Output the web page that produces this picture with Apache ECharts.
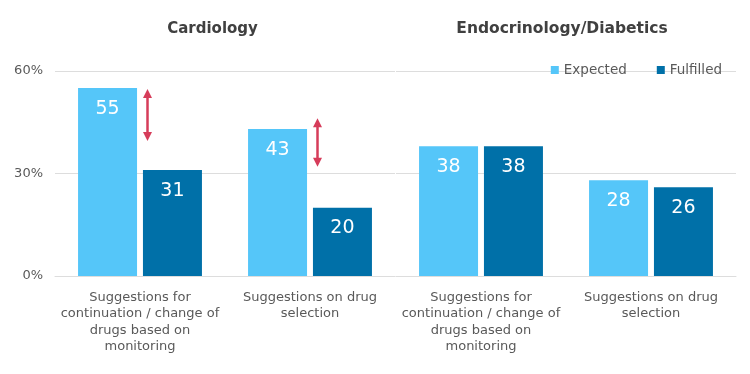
<!DOCTYPE html>
<html>
<head>
<meta charset="utf-8">
<script src="https://cdn.jsdelivr.net/npm/echarts@6/dist/echarts.min.js"></script>
<style>
html,body{margin:0;padding:0;background:#fff;}
#chart{width:750px;height:374px;}
</style>
</head>
<body>
<div id="chart"></div>
<script>
// ---- data ----
var panelTitles = ['Cardiology', 'Endocrinology/Diabetics'];
var categories = ['Suggestions for\ncontinuation / change of\ndrugs based on\nmonitoring', 'Suggestions on drug\nselection'];
var cardioExpected = [55, 43];
var cardioFulfilled = [31, 20];
var endoExpected = [38, 28];
var endoFulfilled = [38, 26];
var yTicks = [0, 30, 60];
// gap arrows in the Cardiology panel: [category index, top value, bottom value]
var arrowCats = [0, 1];
var arrowTop = [54.7, 46.2];
var arrowBottom = [39.5, 32.0];

var cLight = '#55C6F9';
var cDark = '#0070A8';
var cText = '#595959';
var cGrid = '#DDDDDD';
var font = '"DejaVu Sans", Verdana, sans-serif';

var chart = echarts.init(document.getElementById('chart'), null, {renderer: 'canvas'});

function xAxis(idx) {
  return {
    type: 'category', gridIndex: idx, data: categories,
    axisTick: {show: false},
    axisLine: {lineStyle: {color: cGrid, width: 1}},
    axisLabel: {interval: 0, color: cText, fontSize: 13, lineHeight: 16.5, margin: 13, fontFamily: font}
  };
}
function yAxis(idx, showLabel) {
  return {
    type: 'value', gridIndex: idx, min: yTicks[0], max: yTicks[yTicks.length - 1], interval: yTicks[1] - yTicks[0],
    axisLine: {show: false}, axisTick: {show: false},
    axisLabel: {show: showLabel, color: cText, fontSize: 13, margin: 12, fontFamily: font, formatter: '{value}%'},
    splitLine: {lineStyle: {color: cGrid, width: 1}}
  };
}
var labelCfg = {show: true, position: 'insideTop', distance: 11, color: '#ffffff', fontSize: 19, fontFamily: font};

function barSeries(name, data, idx, color) {
  return {
    name: name, type: 'bar', xAxisIndex: idx, yAxisIndex: idx, data: data,
    barWidth: 59, barGap: '10%', itemStyle: {color: color},
    label: labelCfg, emphasis: {disabled: true}
  };
}

var arrowData = arrowCats.map(function (c, i) { return [c, arrowTop[i], arrowBottom[i]]; });

var option = {
  animation: false,
  textStyle: {fontFamily: font},
  title: [
    {text: panelTitles[0], left: 207.5, top: 17, textAlign: 'center', textStyle: {fontSize: 15, fontWeight: 'bold', color: '#404040', fontFamily: font}},
    {text: panelTitles[1], left: 557, top: 16, textAlign: 'center', textStyle: {fontSize: 15.5, fontWeight: 'bold', color: '#404040', fontFamily: font}}
  ],
  legend: {
    data: ['Expected', 'Fulfilled'], right: 23, top: 58, itemWidth: 8, itemHeight: 8, itemGap: 30,
    icon: 'rect', textStyle: {color: cText, fontSize: 13.5, fontFamily: font}
  },
  grid: [
    {left: 55, width: 340, top: 71, height: 205},
    {left: 396, width: 340, top: 71, height: 205}
  ],
  xAxis: [xAxis(0), xAxis(1)],
  yAxis: [yAxis(0, true), yAxis(1, false)],
  series: [
    barSeries('Expected', cardioExpected, 0, cLight),
    barSeries('Fulfilled', cardioFulfilled, 0, cDark),
    barSeries('Expected', endoExpected, 1, cLight),
    barSeries('Fulfilled', endoFulfilled, 1, cDark),
    {
      type: 'custom', name: 'gap', xAxisIndex: 0, yAxisIndex: 0, data: arrowData,
      encode: {x: 0, y: [1, 2]}, z: 10, silent: true,
      renderItem: function (params, api) {
        var p1 = api.coord([api.value(0), api.value(1)]);
        var p2 = api.coord([api.value(0), api.value(2)]);
        var x = p1[0] + 7.5, y1 = p1[1], y2 = p2[1];
        var col = '#D63C5A';
        return {
          type: 'group',
          children: [
            {type: 'line', shape: {x1: x, y1: y1 + 6, x2: x, y2: y2 - 6}, style: {stroke: col, lineWidth: 2.5}},
            {type: 'polygon', shape: {points: [[x, y1], [x - 4.5, y1 + 9], [x + 4.5, y1 + 9]]}, style: {fill: col}},
            {type: 'polygon', shape: {points: [[x, y2], [x - 4.5, y2 - 9], [x + 4.5, y2 - 9]]}, style: {fill: col}}
          ]
        };
      }
    }
  ]
};
chart.setOption(option);
</script>
</body>
</html>
